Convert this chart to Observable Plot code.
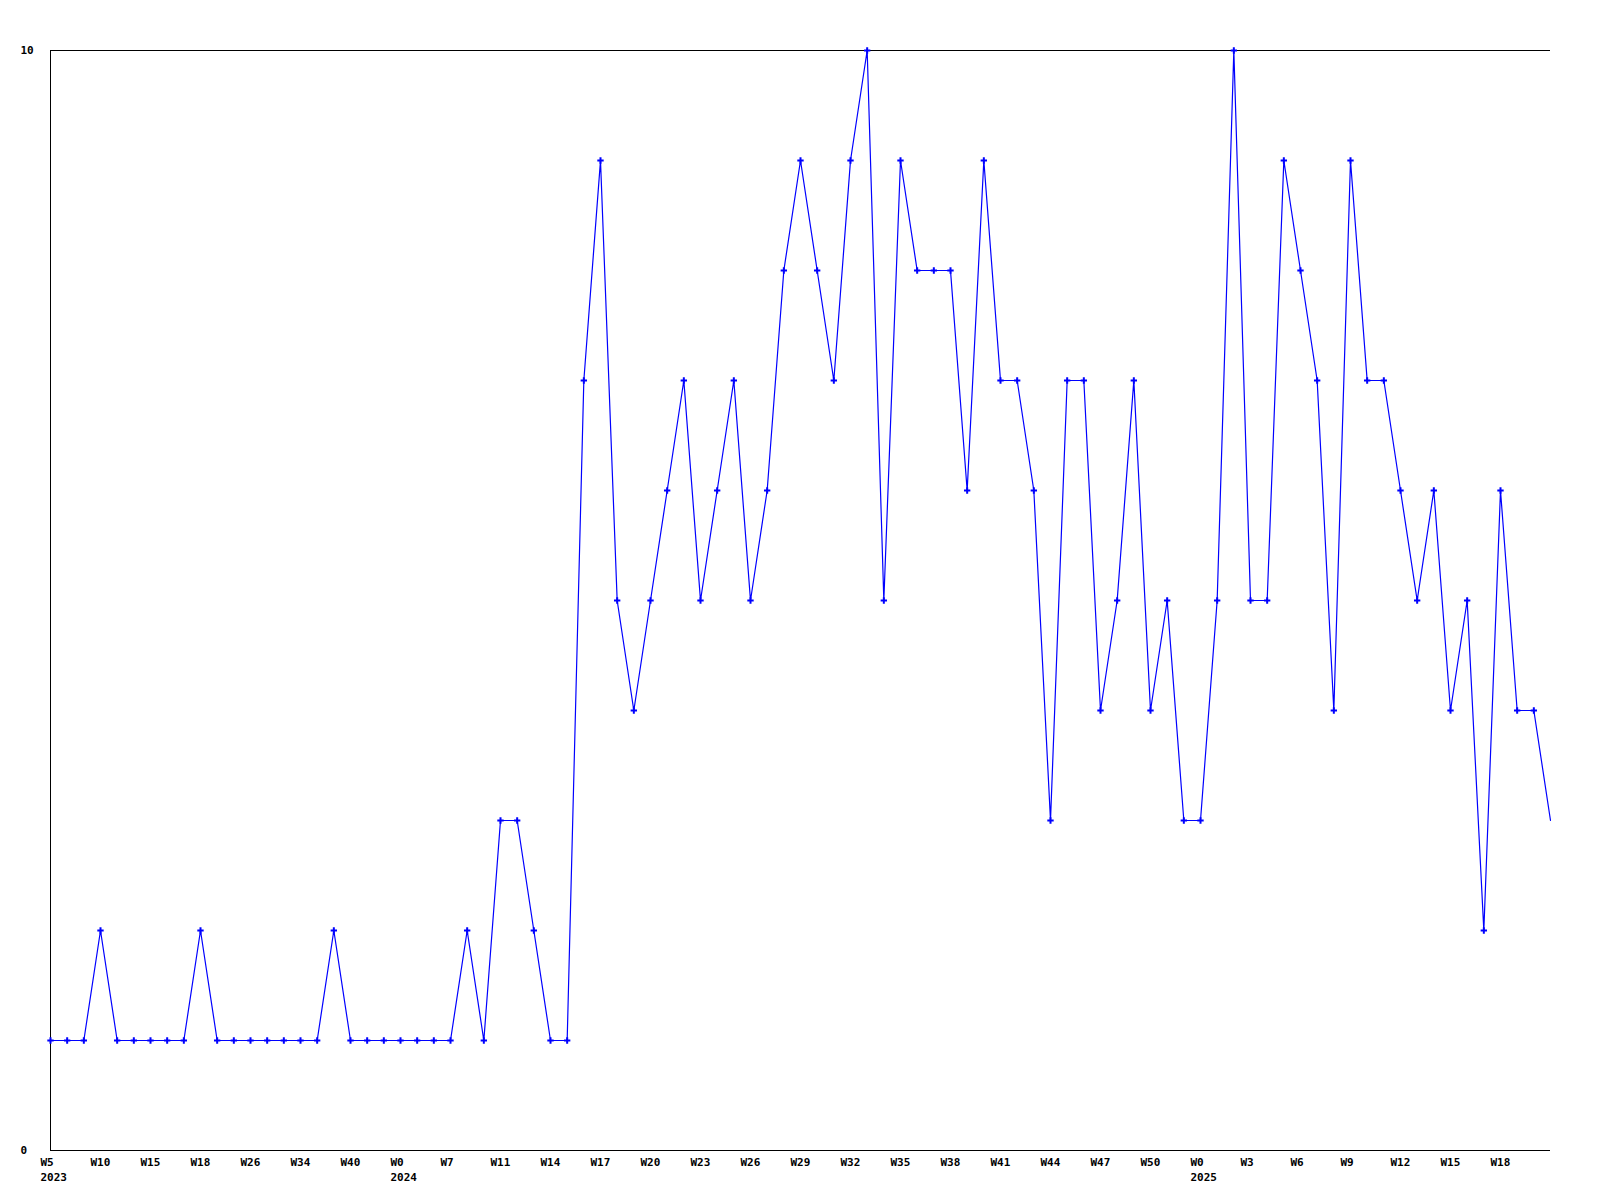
<!DOCTYPE html>
<html>
<head>
<meta charset="utf-8">
<script src="https://cdn.jsdelivr.net/npm/d3@7"></script>
<script src="https://cdn.jsdelivr.net/npm/@observablehq/plot@0.6"></script>
<style>
  html, body { margin: 0; padding: 0; background: #fff; }
  #chart svg { display: block; }
</style>
</head>
<body>
<div id="chart"></div>
<script>
// Weekly values (one per point, in order)
const values = [
  1, 1, 1, 2, 1, 1, 1, 1, 1, 2,
  1, 1, 1, 1, 1, 1, 1, 2, 1, 1,
  1, 1, 1, 1, 1, 2, 1, 3, 3, 2,
  1, 1, 7, 9, 5, 4, 5, 6, 7, 5,
  6, 7, 5, 6, 8, 9, 8, 7, 9, 10,
  5, 9, 8, 8, 8, 6, 9, 7, 7, 6,
  3, 7, 7, 4, 5, 7, 4, 5, 3, 3,
  5, 10, 5, 5, 9, 8, 7, 4, 9, 7,
  7, 6, 5, 6, 4, 5, 2, 6, 4, 4,
  3
];
// Tick labels, one every third point
const tickLabels = [
  "W5\n2023", "W10", "W15", "W18", "W26", "W34", "W40", "W0\n2024", "W7", "W11",
  "W14", "W17", "W20", "W23", "W26", "W29", "W32", "W35", "W38", "W41",
  "W44", "W47", "W50", "W0\n2025", "W3", "W6", "W9", "W12", "W15", "W18"
];
const yTicks = [0, 10];

const data = values.map((v, i) => ({i, v}));
const tickIdx = tickLabels.map((_, k) => k * 3);
const labelOf = new Map(tickIdx.map((t, k) => [t, tickLabels[k]]));
const blue = "#0000ff";
const font = "'DejaVu Sans Mono', monospace";

const chart = Plot.plot({
  width: 1600,
  height: 1200,
  marginLeft: 50,
  marginRight: 50,
  marginTop: 50,
  marginBottom: 50,
  style: {fontFamily: font, fontSize: "11px", fontWeight: "bold", color: "#000", background: "#fff"},
  x: {domain: [0, values.length - 1]},
  y: {domain: [0, 10]},
  marks: [
    Plot.ruleY(yTicks, {stroke: "#000", strokeWidth: 1}),
    Plot.ruleX([0], {stroke: "#000", strokeWidth: 1}),
    Plot.axisY({ticks: yTicks, tickSize: 0, tickPadding: 30, textAnchor: "start", label: null, fontWeight: "bold", fill: "#000"}),
    Plot.axisX({ticks: tickIdx, tickSize: 0, tickPadding: 4, tickFormat: d => labelOf.get(d), textAnchor: "start", dx: -10, lineHeight: 1.42, label: null, fontWeight: "bold", fill: "#000"}),
    Plot.line(data, {x: "i", y: "v", stroke: blue, strokeWidth: 1.2}),
    Plot.dot(data.slice(0, -1), {x: "i", y: "v", symbol: "plus", r: 2.2, stroke: blue, strokeWidth: 2})
  ]
});
document.getElementById("chart").append(chart);
</script>
</body>
</html>
